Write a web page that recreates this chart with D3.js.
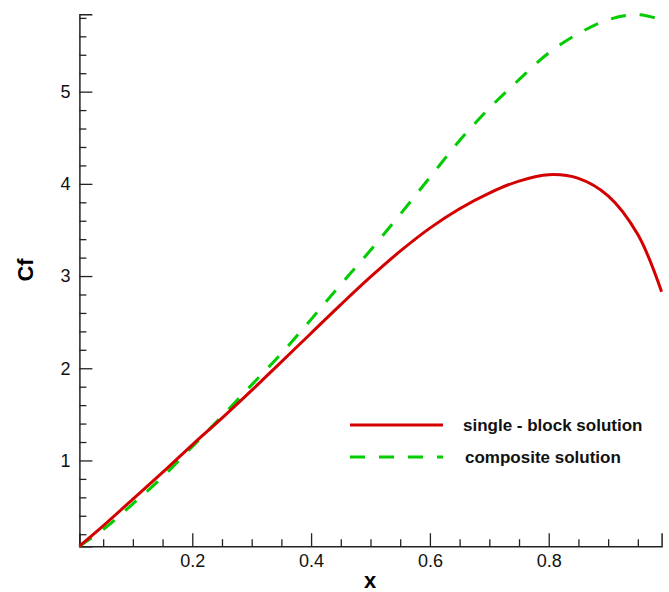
<!DOCTYPE html>
<html>
<head>
<meta charset="utf-8">
<script src="https://cdn.jsdelivr.net/npm/d3@7"></script>
<style>
  body { margin: 0; background: #fff; }
  svg { display: block; font-family: "Liberation Sans", Arial, sans-serif; }
</style>
</head>
<body>
<div id="chart"></div>
<script>
const xValues = [0.01, 0.05, 0.1, 0.15, 0.2, 0.25, 0.3, 0.35, 0.4, 0.45, 0.5, 0.55, 0.6, 0.65, 0.7, 0.75, 0.8, 0.85, 0.9, 0.95, 0.99];
const singleBlock = [0.07, 0.29, 0.58, 0.87, 1.17, 1.46, 1.76, 2.07, 2.38, 2.69, 2.99, 3.27, 3.52, 3.73, 3.90, 4.03, 4.10, 4.06, 3.87, 3.45, 2.83];
const composite = [0.07, 0.25, 0.53, 0.82, 1.15, 1.48, 1.82, 2.16, 2.53, 2.91, 3.28, 3.67, 4.07, 4.47, 4.82, 5.13, 5.42, 5.63, 5.78, 5.835, 5.78];
const xMajorTicks = [0.2, 0.4, 0.6, 0.8];
const yMajorTicks = [1, 2, 3, 4, 5];
const seriesNames = ["single - block solution", "composite solution"];

const width = 669;
const height = 592;

const svg = d3.select("#chart")
  .append("svg")
    .attr("width", width)
    .attr("height", height);

// scales: axis runs from 0.01 to 0.99 and from 0.07 to 5.84
const xScale = d3.scaleLinear()
  .domain([0.01, 0.99])
  .range([79.4, 661.6]);
const yScale = d3.scaleLinear()
  .domain([0.07, 5.84])
  .range([546.2, 14.2]);

// minor ticks
const xMinor = d3.range(1, 20).map(i => +(i * 0.05).toFixed(2)).filter(v => !xMajorTicks.includes(v));
const yMinor = d3.range(1, 30).map(i => +(i * 0.2).toFixed(1)).filter(v => v <= 5.84 && !yMajorTicks.includes(v));

svg.append("g")
  .attr("class", "minor")
  .attr("transform", `translate(0, ${yScale(0.07)})`)
  .call(d3.axisBottom(xScale).tickValues(xMinor).tickSize(-7).tickFormat(""));
svg.append("g")
  .attr("class", "minor")
  .attr("transform", `translate(${xScale(0.01)}, 0)`)
  .call(d3.axisLeft(yScale).tickValues(yMinor).tickSize(-7).tickFormat(""));

// X axis
svg.append("g")
  .attr("class", "major")
  .attr("transform", `translate(0, ${yScale(0.07)})`)
  .call(d3.axisBottom(xScale).tickValues(xMajorTicks).tickSize(-13).tickPadding(8).tickFormat(d3.format(".1f")));

// Y axis
svg.append("g")
  .attr("class", "major")
  .attr("transform", `translate(${xScale(0.01)}, 0)`)
  .call(d3.axisLeft(yScale).tickValues(yMajorTicks).tickSize(-13).tickPadding(9).tickFormat(d3.format("d")));

svg.selectAll(".minor .domain").remove();
svg.selectAll(".major .domain").attr("stroke", "#222").attr("stroke-width", 1.5);
svg.selectAll(".tick line").attr("stroke", "#222").attr("stroke-width", 1.3);
svg.selectAll(".major .tick text")
  .attr("font-size", 18)
  .attr("fill", "#111")
  .style("font-family", "'Liberation Sans', Arial, sans-serif");

// axis titles
svg.append("text")
  .attr("x", 370)
  .attr("y", 588)
  .attr("text-anchor", "middle")
  .attr("font-size", 22)
  .attr("font-weight", "bold")
  .text("x");
svg.append("text")
  .attr("transform", "translate(33, 270) rotate(-90)")
  .attr("text-anchor", "middle")
  .attr("font-size", 22)
  .attr("font-weight", "bold")
  .text("Cf");

// Lines
const line = d3.line()
  .x((d, i) => xScale(xValues[i]))
  .y(d => yScale(d))
  .curve(d3.curveCatmullRom);

svg.append("path")
  .datum(composite)
  .attr("fill", "none")
  .attr("stroke", "#00cc00")
  .attr("stroke-width", 3)
  .attr("stroke-dasharray", "15,14")
  .attr("d", line);

svg.append("path")
  .datum(singleBlock)
  .attr("fill", "none")
  .attr("stroke", "#d40000")
  .attr("stroke-width", 3)
  .attr("d", line);

// Legend
const legend = svg.append("g");
const legendItems = [
  { name: seriesNames[0], color: "#d40000", dash: null, y: 425 },
  { name: seriesNames[1], color: "#00cc00", dash: "15,14", y: 457 }
];
legendItems.forEach((item, i) => {
  legend.append("line")
    .attr("x1", 350).attr("x2", 443)
    .attr("y1", item.y).attr("y2", item.y)
    .attr("stroke", item.color)
    .attr("stroke-width", 3)
    .attr("stroke-dasharray", item.dash);
  legend.append("text")
    .attr("x", i === 0 ? 463 : 465)
    .attr("y", item.y + 6)
    .attr("font-size", 17)
    .attr("font-weight", "bold")
    .attr("fill", "#111")
    .text(item.name);
});
</script>
</body>
</html>
